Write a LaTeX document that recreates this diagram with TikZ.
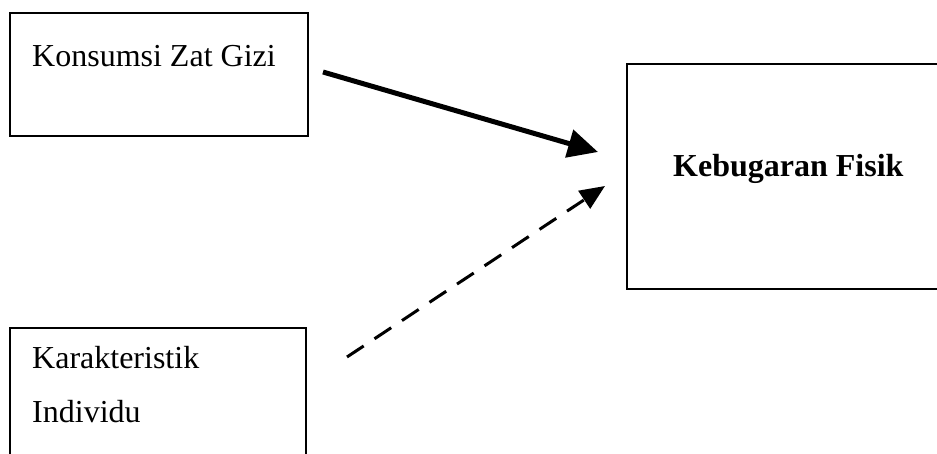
\documentclass[tikz,border=0pt]{standalone}
\usepackage{fontspec}
\setmainfont{Liberation Serif}
\usetikzlibrary{arrows.meta}
\begin{document}
\begin{tikzpicture}[x=1pt, y=-1pt, box/.style = {draw, line width=1.8pt, inner sep=0pt}, txt/.style = {anchor=base west, inner sep=0pt, font=\fontsize{32}{38}\selectfont}]
        \useasboundingbox (0,0) rectangle (937,454);
        \node[box, minimum width=298pt, minimum height=123pt] (gizi) at (159,74.5) {};
        \node[box, minimum width=296pt, minimum height=142pt] (indiv) at (158,399) {};
        \node[box, minimum width=318pt, minimum height=225pt] (bugar) at (786,176.5) {};
        \node[txt] (gizitxt) at (32,67) {Konsumsi Zat Gizi};
        \node[txt] (indivtxt1) at (32,368) {Karakteristik};
        \node[txt] (indivtxt2) at (32,422) {Individu};
        \node[txt, font=\fontsize{32}{38}\selectfont\bfseries] (bugartxt) at (673,177) {Kebugaran Fisik};
        \coordinate (s1) at (323,72);
        \coordinate (e1) at (598,152);
        \coordinate (s2) at (347,357);
        \coordinate (e2) at (605,186);
        \draw[line width=5pt, -{Triangle[length=30pt,width=28pt]}] (s1) to (e1);
        \draw[line width=3pt, dash pattern=on 20pt off 13pt, -{Triangle[length=25pt,width=21pt]}] (s2) to (e2);
    \end{tikzpicture}
\end{document}
